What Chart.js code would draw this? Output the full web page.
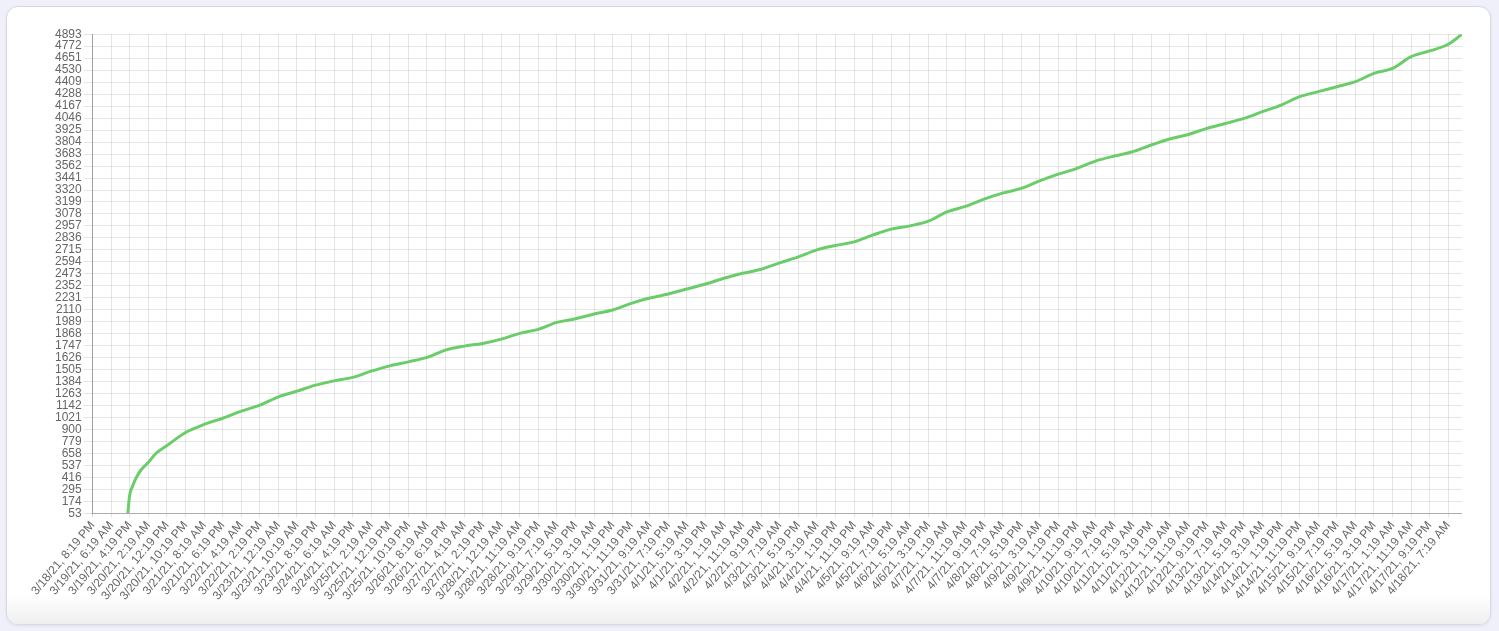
<!DOCTYPE html>
<html>
<head>
<meta charset="utf-8">
<script src="https://cdn.jsdelivr.net/npm/chart.js@4.4.0/dist/chart.umd.min.js"></script>
<style>
  html, body { margin: 0; padding: 0; width: 1499px; height: 631px; overflow: hidden; background: #f0f0fa; }
  .card {
    position: absolute; left: 6px; top: 6px; width: 1483px; height: 617px;
    background: #fff; border: 1px solid #d9d9e6; border-radius: 12px;
    box-shadow: 0 1px 3px rgba(0, 0, 0, 0.08); overflow: hidden;
  }
  .card::after {
    content: ''; position: absolute; left: 0; right: 0; bottom: 0; height: 30px;
    background: linear-gradient(rgba(255, 255, 255, 0), #efefef);
  }
  .chart-box { position: absolute; left: 20px; top: 25px; width: 1442px; height: 579px; }
</style>
</head>
<body>
<div class="card"></div>
<div class="chart-box"><canvas id="myChart"></canvas></div>
<script>
const tickLabels = [
  '3/18/21, 8:19 PM', '3/19/21, 6:19 AM', '3/19/21, 4:19 PM', '3/20/21, 2:19 AM', '3/20/21, 12:19 PM',
  '3/20/21, 10:19 PM', '3/21/21, 8:19 AM', '3/21/21, 6:19 PM', '3/22/21, 4:19 AM', '3/22/21, 2:19 PM',
  '3/23/21, 12:19 AM', '3/23/21, 10:19 AM', '3/23/21, 8:19 PM', '3/24/21, 6:19 AM', '3/24/21, 4:19 PM',
  '3/25/21, 2:19 AM', '3/25/21, 12:19 PM', '3/25/21, 10:19 PM', '3/26/21, 8:19 AM', '3/26/21, 6:19 PM',
  '3/27/21, 4:19 AM', '3/27/21, 2:19 PM', '3/28/21, 12:19 AM', '3/28/21, 11:19 AM', '3/28/21, 9:19 PM',
  '3/29/21, 7:19 AM', '3/29/21, 5:19 PM', '3/30/21, 3:19 AM', '3/30/21, 1:19 PM', '3/30/21, 11:19 PM',
  '3/31/21, 9:19 AM', '3/31/21, 7:19 PM', '4/1/21, 5:19 AM', '4/1/21, 3:19 PM', '4/2/21, 1:19 AM',
  '4/2/21, 11:19 AM', '4/2/21, 9:19 PM', '4/3/21, 7:19 AM', '4/3/21, 5:19 PM', '4/4/21, 3:19 AM',
  '4/4/21, 1:19 PM', '4/4/21, 11:19 PM', '4/5/21, 9:19 AM', '4/5/21, 7:19 PM', '4/6/21, 5:19 AM',
  '4/6/21, 3:19 PM', '4/7/21, 1:19 AM', '4/7/21, 11:19 AM', '4/7/21, 9:19 PM', '4/8/21, 7:19 AM',
  '4/8/21, 5:19 PM', '4/9/21, 3:19 AM', '4/9/21, 1:19 PM', '4/9/21, 11:19 PM', '4/10/21, 9:19 AM',
  '4/10/21, 7:19 PM', '4/11/21, 5:19 AM', '4/11/21, 3:19 PM', '4/12/21, 1:19 AM', '4/12/21, 11:19 AM',
  '4/12/21, 9:19 PM', '4/13/21, 7:19 AM', '4/13/21, 5:19 PM', '4/14/21, 3:19 AM', '4/14/21, 1:19 PM',
  '4/14/21, 11:19 PM', '4/15/21, 9:19 AM', '4/15/21, 7:19 PM', '4/16/21, 5:19 AM', '4/16/21, 3:19 PM',
  '4/17/21, 1:19 AM', '4/17/21, 11:19 AM', '4/17/21, 9:19 PM', '4/18/21, 7:19 AM'
];

const yTicks = [
  53, 174, 295, 416, 537, 658, 779, 900, 1021, 1142, 1263, 1384, 1505, 1626, 1747, 1868, 1989,
  2110, 2231, 2352, 2473, 2594, 2715, 2836, 2957, 3078, 3199, 3320, 3441, 3562, 3683, 3804,
  3925, 4046, 4167, 4288, 4409, 4530, 4651, 4772, 4893
];

// hours after 3/18/21 8:19 PM (one x tick every 10 h)
const hours = [
  18.9, 19.9, 21.3, 23.2, 25.9, 30, 34, 40, 50, 60, 70, 80, 90, 100, 110, 120, 130, 140, 150,
  160, 170, 180, 190, 200, 210, 220, 230, 240, 250, 260, 270, 280, 290, 300, 310, 320, 330,
  340, 350, 360, 370, 380, 390, 400, 410, 420, 430, 440, 450, 460, 470, 480, 490, 500, 510,
  520, 530, 540, 550, 560, 570, 580, 590, 600, 610, 620, 630, 640, 650, 660, 670, 680, 690,
  700, 710, 720, 730, 737.4
];

const counts = [
  53, 238, 322, 407, 491, 571, 660, 740, 872, 953, 1016, 1087, 1148, 1232, 1289, 1350, 1393, 1428, 1491,
  1545, 1585, 1630, 1704, 1744, 1771, 1815, 1873, 1913, 1984, 2020, 2068, 2108, 2176, 2229, 2270, 2320, 2371,
  2429, 2479, 2520, 2585, 2645, 2715, 2760, 2796, 2864, 2925, 2958, 3005, 3099, 3154, 3228, 3288, 3336, 3413,
  3480, 3538, 3612, 3662, 3706, 3774, 3835, 3881, 3942, 3992, 4043, 4111, 4178, 4262, 4313, 4363, 4414, 4498,
  4548, 4666, 4724, 4791, 4893
];

const tickFont = { family: 'Arial', size: 12 };

const configureData = () => {
  return {
    datasets: [{
      data: hours.map((h, i) => ({ x: h, y: counts[i] })),
      borderColor: '#6acd6a',
      borderWidth: 3,
      pointRadius: 0,
      fill: false,
      cubicInterpolationMode: 'monotone'
    }]
  }
};

const configureChart = (data) => {
  return {
    type: 'line',
    data: data,
    options: {
      responsive: true,
      maintainAspectRatio: false,
      animation: false,
      layout: {
        padding: { left: 33 }
      },
      plugins: {
        legend: { display: false },
        tooltip: { enabled: false }
      },
      scales: {
        x: {
          type: 'linear',
          min: 0,
          max: 737.4,
          afterBuildTicks: (axis) => {
            axis.ticks = tickLabels.map((t, i) => ({ value: i * 10 }));
          },
          ticks: {
            autoSkip: false,
            includeBounds: false,
            minRotation: 50,
            maxRotation: 50,
            padding: 1,
            color: '#666',
            font: tickFont,
            callback: (v, i) => tickLabels[i]
          },
          grid: { color: 'rgba(0,0,0,0.1)', tickLength: 4 },
          border: { color: 'rgba(0,0,0,0.25)' }
        },
        y: {
          min: 53,
          max: 4893,
          afterBuildTicks: (axis) => {
            axis.ticks = yTicks.map((v) => ({ value: v }));
          },
          ticks: {
            autoSkip: false,
            padding: 2,
            color: '#666',
            font: tickFont,
            callback: (v) => String(v)
          },
          grid: { color: 'rgba(0,0,0,0.1)', tickLength: 9 },
          border: { color: 'rgba(0,0,0,0.3)' }
        }
      }
    }
  }
};

const renderChart = () => {
  const ctx = document.getElementById('myChart');
  const chartConfigurations = configureChart(configureData());
  const myChart = new Chart(ctx, chartConfigurations);
};

window.onload = () => {
  renderChart();
};
</script>
</body>
</html>
